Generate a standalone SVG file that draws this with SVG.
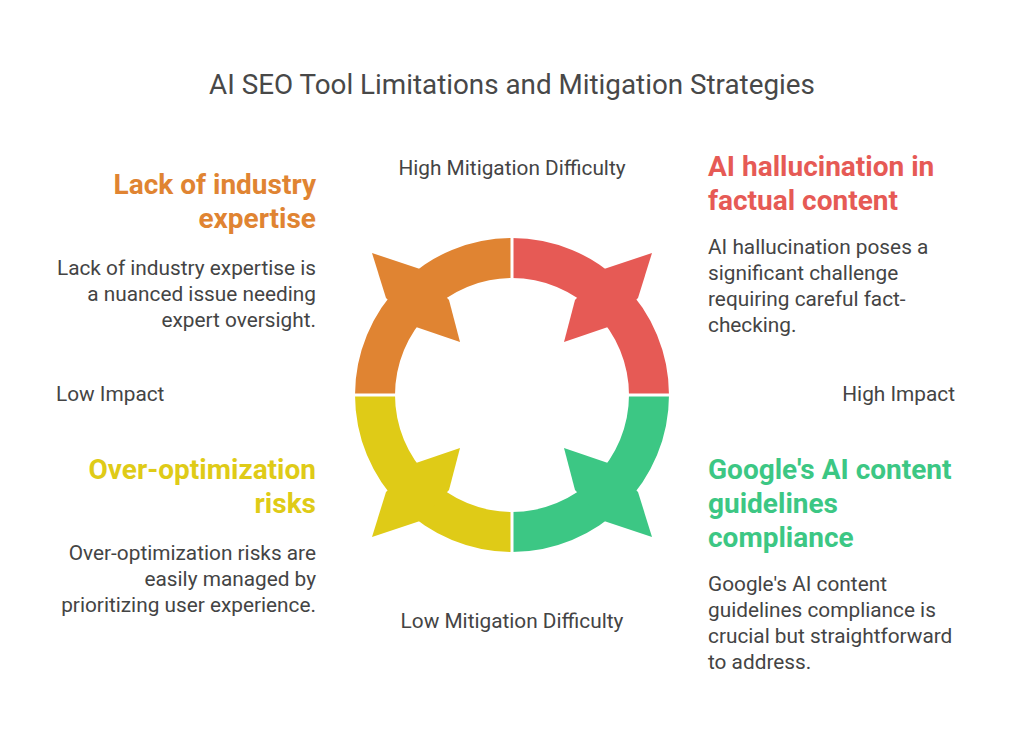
<svg xmlns="http://www.w3.org/2000/svg" width="1024" height="739" viewBox="0 0 1024 739">
<style>
text{font-family:Roboto,"Liberation Sans",sans-serif;}
.t{font-size:27.8px;fill:#484848;}
.h{font-size:28px;font-weight:bold;}
.b{font-size:20.8px;fill:#444;}
.a{font-size:20.8px;fill:#444;}
</style>
<defs>
<g id="q">
<path d="M355,395 A157,157 0 0 1 512,238 L512,278 A117,117 0 0 0 395,395 Z"/>
<polygon points="372,253 420,269 449,300 460,342 416,327 386,298"/>
</g>
</defs>
<rect width="1024" height="739" fill="#fff"/>
<text class="t" x="512" y="94" text-anchor="middle">AI SEO Tool Limitations and Mitigation Strategies</text>
<g id="ring">
<g id="n-orange" fill="#E08432"><use href="#q"/></g>
<g id="n-red" fill="#E65A55"><use href="#q" transform="translate(1024,0) scale(-1,1)"/></g>
<g id="n-green" fill="#3CC784"><use href="#q" transform="translate(1024,790) scale(-1,-1)"/></g>
<g id="n-yellow" fill="#DFCB17"><use href="#q" transform="translate(0,790) scale(1,-1)"/></g>
<g stroke="#fff" stroke-width="3"><line x1="512" y1="230" x2="512" y2="560"/><line x1="345" y1="395" x2="680" y2="395"/></g>
</g>
<g id="axes">
<text class="a" x="512" y="175" text-anchor="middle">High Mitigation Difficulty</text>
<text class="a" x="512" y="628" text-anchor="middle">Low Mitigation Difficulty</text>
<text class="a" x="56" y="401">Low Impact</text>
<text class="a" x="955" y="401" text-anchor="end">High Impact</text>
</g>
<g id="t-orange" text-anchor="end">
<text class="h" x="316" y="194" fill="#E08432">Lack of industry</text>
<text class="h" x="316" y="228" fill="#E08432">expertise</text>
<text class="b" x="316" y="275">Lack of industry expertise is</text>
<text class="b" x="316" y="301">a nuanced issue needing</text>
<text class="b" x="316" y="327">expert oversight.</text>
</g>
<g id="t-red">
<text class="h" x="708" y="176" fill="#E65A55">AI hallucination in</text>
<text class="h" x="708" y="210" fill="#E65A55">factual content</text>
<text class="b" x="708" y="254">AI hallucination poses a</text>
<text class="b" x="708" y="280">significant challenge</text>
<text class="b" x="708" y="306">requiring careful fact-</text>
<text class="b" x="708" y="332">checking.</text>
</g>
<g id="t-yellow" text-anchor="end">
<text class="h" x="316" y="479" fill="#DFCB17">Over-optimization</text>
<text class="h" x="316" y="513" fill="#DFCB17">risks</text>
<text class="b" x="316" y="560">Over-optimization risks are</text>
<text class="b" x="316" y="586">easily managed by</text>
<text class="b" x="316" y="612">prioritizing user experience.</text>
</g>
<g id="t-green">
<text class="h" x="708" y="479" fill="#3CC784">Google's AI content</text>
<text class="h" x="708" y="513" fill="#3CC784">guidelines</text>
<text class="h" x="708" y="547" fill="#3CC784">compliance</text>
<text class="b" x="708" y="591">Google's AI content</text>
<text class="b" x="708" y="617">guidelines compliance is</text>
<text class="b" x="708" y="643">crucial but straightforward</text>
<text class="b" x="708" y="669">to address.</text>
</g>
</svg>
